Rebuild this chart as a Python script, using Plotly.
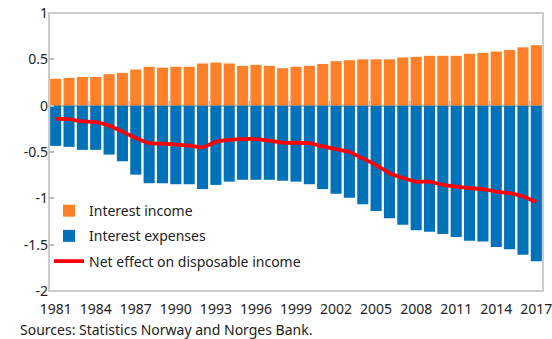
import plotly.graph_objects as go

years = list(range(1981, 2018))
interest_income = [0.29, 0.30, 0.31, 0.31, 0.34, 0.354, 0.39, 0.42, 0.41, 0.42,
                   0.42, 0.455, 0.465, 0.455, 0.43, 0.44, 0.43, 0.405, 0.42, 0.43,
                   0.45, 0.48, 0.49, 0.50, 0.50, 0.50, 0.52, 0.527, 0.538, 0.538,
                   0.538, 0.56, 0.57, 0.584, 0.60, 0.63, 0.653]
interest_expenses = [-0.434, -0.445, -0.477, -0.477, -0.528, -0.60, -0.744, -0.837, -0.837, -0.848,
                     -0.848, -0.90, -0.855, -0.82, -0.80, -0.80, -0.80, -0.81, -0.82, -0.848,
                     -0.90, -0.95, -0.995, -1.064, -1.136, -1.215, -1.284, -1.345, -1.36, -1.385,
                     -1.417, -1.457, -1.467, -1.525, -1.55, -1.61, -1.68]
net_effect = [-0.14, -0.146, -0.17, -0.178, -0.215, -0.28, -0.35, -0.405, -0.41, -0.42,
              -0.43, -0.45, -0.39, -0.37, -0.36, -0.36, -0.376, -0.40, -0.40, -0.405,
              -0.44, -0.47, -0.50, -0.57, -0.64, -0.73, -0.78, -0.82, -0.82, -0.855,
              -0.873, -0.89, -0.90, -0.927, -0.945, -0.98, -1.04]
x_tick_years = list(range(1981, 2018, 3))
y_ticks = [1, 0.5, 0, -0.5, -1, -1.5, -2]
y_tick_labels = ["1", "0.5", "0", "-0.5", "-1", "-1.5", "-2"]
source_text = "Sources: Statistics Norway and Norges Bank."

FONT = "Noto Sans"
GRID = "#bcbcbc"

fig = go.Figure()
fig.add_trace(go.Bar(x=years, y=interest_income, name="Interest income",
                     marker=dict(color="#FF8027", line=dict(width=0)),
                     legendgroup="a"))
fig.add_trace(go.Bar(x=years, y=interest_expenses, name="Interest expenses",
                     marker=dict(color="#0072BA", line=dict(width=0)),
                     legendgroup="b"))
fig.add_trace(go.Scatter(x=years, y=net_effect, name="Net effect on disposable income",
                         mode="lines", line=dict(color="#FF0000", width=3.8, shape="spline", smoothing=0.6),
                         legendgroup="c"))

# frame around the plot area
shapes = [dict(type="rect", xref="paper", yref="paper", x0=0, x1=1, y0=0, y1=1,
               line=dict(color=GRID, width=1.5), fillcolor="rgba(0,0,0,0)", layer="above")]
# small tick marks on the zero line, between every third category
for yr in range(1983, 2017, 3):
    b = yr + 0.5
    shapes.append(dict(type="line", xref="x", yref="y", ysizemode="pixel", yanchor=0,
                       x0=b, x1=b, y0=0, y1=5, line=dict(color=GRID, width=1.5), layer="above"))

fig.update_layout(
    width=552, height=339,
    margin=dict(l=49, r=9, t=13, b=48, autoexpand=False),
    paper_bgcolor="white", plot_bgcolor="white",
    barmode="relative", bargap=0.17,
    font=dict(family=FONT, size=14, color="#222222"),
    showlegend=True,
    legend=dict(x=0.0, y=0.345, xanchor="left", yanchor="top",
                bgcolor="rgba(0,0,0,0)", traceorder="grouped", tracegroupgap=4,
                font=dict(size=14, family=FONT)),
    xaxis=dict(range=[1980.5, 2017.5], tickvals=x_tick_years, ticktext=[str(y) for y in x_tick_years],
               showgrid=False, zeroline=False, ticks="", showline=False,
               ticklabelstandoff=8, tickfont=dict(size=14), automargin=False,
               ticklabeloverflow="allow"),
    yaxis=dict(range=[-2, 1], tickvals=y_ticks, ticktext=y_tick_labels, showgrid=False,
               zeroline=True, zerolinecolor=GRID, zerolinewidth=1.5,
               showline=False,
               ticks="inside", ticklen=5, tickcolor=GRID, tickwidth=1.5, tickfont=dict(size=14),
               automargin=False, ticklabeloverflow="allow"),
    shapes=shapes,
    annotations=[dict(text=source_text, xref="paper", yref="paper", x=-31/494, y=-0.1367,
                      xanchor="left", yanchor="middle", showarrow=False, font=dict(size=14, family=FONT))],
)

fig.write_html("out.html", config={"displayModeBar": False})

with open("out.html", "r", encoding="utf-8") as f:
    html = f.read()
html = html.replace("<head>", "<head><style>html,body{margin:0;padding:0;overflow:hidden;}</style>", 1)
with open("out.html", "w", encoding="utf-8") as f:
    f.write(html)
